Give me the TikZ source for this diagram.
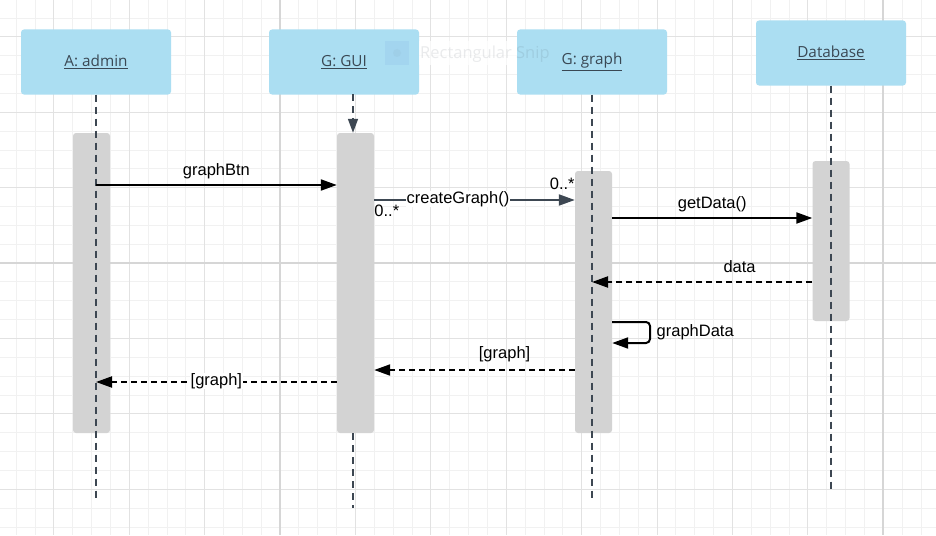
\documentclass[tikz,border=0pt]{standalone}
\usepackage{fontspec}
\setmainfont{Liberation Sans}
\newfontfamily\headfont{Open Sans}
\usepackage{tikz}
\usetikzlibrary{arrows.meta}

\definecolor{boxblue}{RGB}{171,222,242}
\definecolor{snipblue}{RGB}{163,213,239}
\definecolor{bargray}{RGB}{211,211,211}
\definecolor{slate}{RGB}{61,71,82}
\definecolor{headtext}{RGB}{58,72,84}
\definecolor{gridminor}{RGB}{241,241,241}
\definecolor{gridmid}{RGB}{226,226,226}
\definecolor{gridmajor}{RGB}{214,214,214}

\begin{document}
\begin{tikzpicture}[x=1pt,y=-1pt, every node/.style={font=\fontsize{16.5pt}{19pt}\selectfont},
lifehead/.style={fill=boxblue,rounded corners=3pt,minimum width=150pt,minimum height=65pt,font=\headfont\fontsize{15.3pt}{18pt}\selectfont,text=headtext},
actbar/.style={fill=bargray,rounded corners=3pt,minimum width=37pt,inner sep=0pt},
life/.style={draw=slate,line width=1.5pt,dash pattern=on 7pt off 5pt},
msg/.style={draw=black,line width=2pt,-{Triangle[length=16pt,width=11pt]}},
reply/.style={msg,dash pattern=on 6pt off 4pt},
lbl/.style={anchor=base,yshift=10pt,inner sep=0pt},
inline/.style={anchor=base,yshift=-3.5pt,fill=white,inner sep=0.5pt}]

\useasboundingbox (0,0) rectangle (936,535);
\fill[white] (0,0) rectangle (936,535);

\foreach \i in {0,...,48} \draw[gridminor,line width=0.8pt] ({16.1+\i*18.85},0) -- ++(0,535);
\foreach \j in {0,...,27} \draw[gridminor,line width=0.8pt] (0,{17.95+\j*18.85}) -- ++(936,0);
\foreach \i in {0,...,11} \draw[gridmid,line width=1pt] ({53.8+\i*75.4},0) -- ++(0,535);
\foreach \j in {0,...,6} \draw[gridmid,line width=1pt] (0,{36.8+\j*75.4}) -- ++(936,0);
\draw[gridmajor,line width=2pt] (280,0) -- (280,535) (883,0) -- (883,535) (0,263) -- (936,263);

\node[lifehead] (admin) at (96,62) {\underline{A: admin}};
\node[lifehead] (gui) at (344,62) {\underline{G: GUI}};
\node[lifehead] (graph) at (592,62) {\underline{G: graph}};
\node[lifehead] (db) at (831,53) {\underline{Database}};

\fill[snipblue] (385,41) rectangle (409,65);
\fill[snipblue!85!slate,opacity=0.25] (397,53) circle (4);
\fill[white,opacity=0.7] (419,41) rectangle (517,65);
\node[anchor=west,inner sep=0pt,text=slate,opacity=0.11,font=\headfont\fontsize{16.5pt}{18pt}\selectfont] (snip) at (420,54) {Rectangular Snip};

\node[actbar,minimum height=300pt] (adminbar) at (91.5,283) {};
\node[actbar,minimum height=300pt] (guibar) at (355.5,283) {};
\node[actbar,minimum height=262pt] (graphbar) at (593.5,302) {};
\node[actbar,minimum height=160pt] (dbbar) at (831,241) {};

\coordinate (guil) at (353,94);
\draw[life] (admin.south) -- (96,500);
\draw[life,-{Triangle[length=14pt,width=10pt]}] (guil) -- (guil |- guibar.north);
\draw[life] (guibar.south -| guil) -- (353,508);
\draw[life] (graph.south) -- (592,500);
\draw[life] (db.south) -- (831,490);

\draw[msg] (admin.south |- 0,185) -- (guibar.west |- 0,185) node[midway,lbl] (btnlbl) {graphBtn};

\draw[msg,draw=slate] (guibar.east |- 0,200) -- (graphbar.west |- 0,200) node[pos=0.4175,inline] (cglbl) {createGraph()};
\node[anchor=base west,inner sep=0pt] (mleft) at (guibar.east |- 0,216.5) {0..*};
\node[anchor=base east,inner sep=0pt] (mright) at (graphbar.west |- 0,189) {0..*};

\draw[msg] (graphbar.east |- 0,218) -- (dbbar.west |- 0,218) node[midway,lbl] (gdlbl) {getData()};

\draw[reply] (dbbar.west |- 0,282) -- (graph.south |- 0,282) node[pos=0.33,lbl] (datalbl) {data};

\draw[msg,rounded corners=4pt] (graphbar.east |- 0,322) -- (650,322) -- (650,343) -- (graphbar.east |- 0,343);
\node[anchor=base west,inner sep=0pt] (looplbl) at (656.5,336) {graphData};

\draw[reply] (graphbar.west |- 0,370) -- (guibar.east |- 0,370) node[pos=0.35,lbl,yshift=2pt] (rgraph) {[graph]};

\draw[reply] (guibar.west |- 0,382) -- (admin.south |- 0,382) node[midway,inline] (rgui) {[graph]};

\end{tikzpicture}
\end{document}
